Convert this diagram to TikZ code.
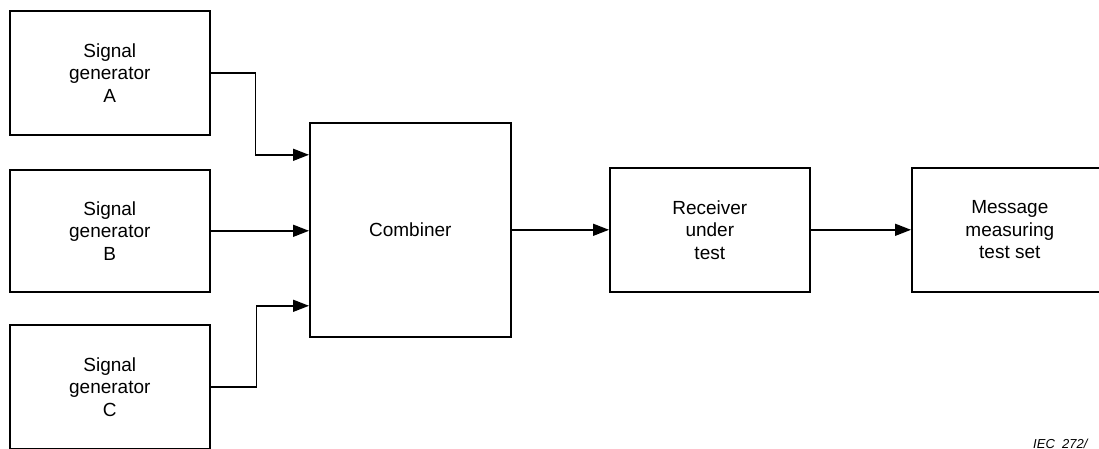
\documentclass[tikz,border=0pt]{standalone}
\usepackage{fontspec}
\setmainfont{Liberation Sans}
\usetikzlibrary{arrows.meta}
\begin{document}
\begin{tikzpicture}[x=1pt,y=-1pt,
  blk/.style={draw, line width=1.6pt, rectangle, anchor=north west, inner sep=0pt,
    align=center, font=\fontsize{19}{22.5}\selectfont},
  arr/.style={line width=1.6pt, -{Triangle[length=16pt,width=12pt]}},
  ln/.style={line width=1.6pt}]
\useasboundingbox (0,0) rectangle (1099,449);
\node[blk, minimum width=200pt, minimum height=124pt] (A) at (9,10) {Signal\\generator\\A};
\node[blk, minimum width=200pt, minimum height=122pt] (B) at (9,169) {Signal\\generator\\B};
\node[blk, minimum width=200pt, minimum height=124pt] (C) at (9,324) {Signal\\generator\\C};
\node[blk, minimum width=201pt, minimum height=214pt] (comb) at (309,122) {Combiner};
\node[blk, minimum width=200pt, minimum height=124pt] (rx) at (609,167) {Receiver\\under\\test};
\node[blk, minimum width=196pt, minimum height=124pt] (msg) at (911,167) {Message\\measuring\\test set};
\draw[arr] (A.east) -- ++(45pt,0) |- ([yshift=75pt]comb.west);
\draw[arr] (B.east) -- (B.east -| comb.west);
\draw[arr] (C.east) -- ++(46pt,0) |- ([yshift=-76pt]comb.west);
\draw[arr] (comb.east) -- (rx.west);
\draw[arr] (rx.east) -- (msg.west);
\node[anchor=base west, inner sep=0pt, font=\fontsize{13}{15}\selectfont\itshape] (iec) at (1033,448) {IEC\ \ 272/};
\end{tikzpicture}
\end{document}
